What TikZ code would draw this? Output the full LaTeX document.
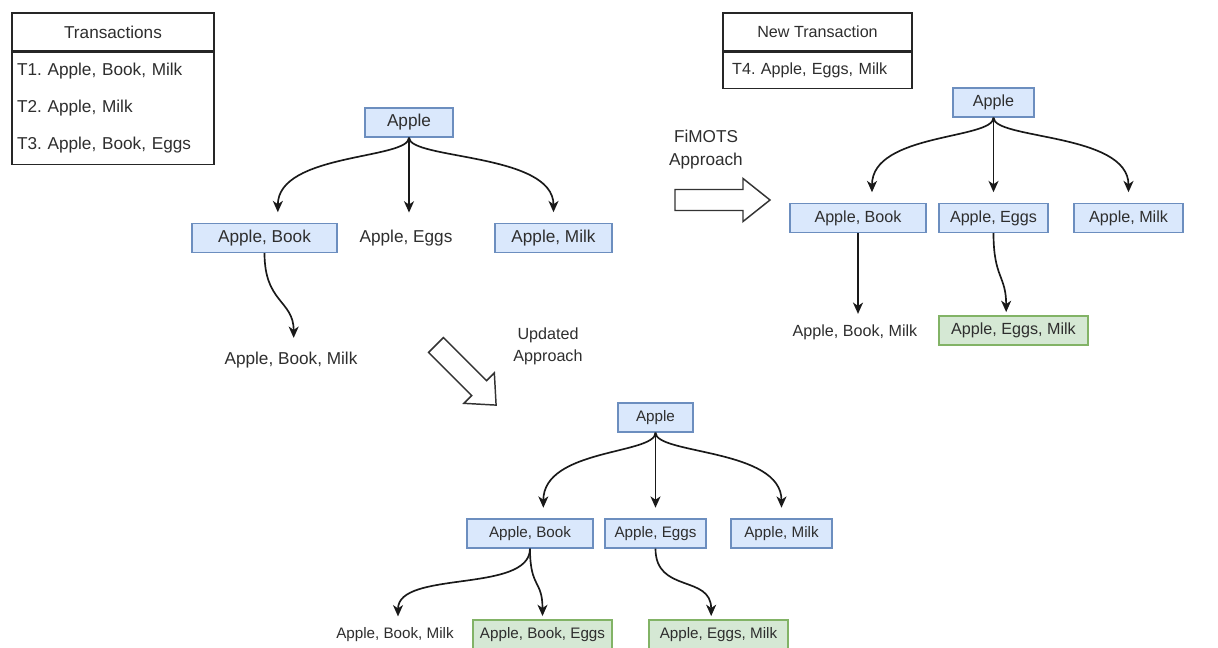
\documentclass[tikz,border=0pt]{standalone}
\usepackage{fontspec}
\setmainfont{Liberation Sans}
\usetikzlibrary{arrows.meta,positioning}
\definecolor{boxblue}{HTML}{DAE8FC}
\definecolor{edgeblue}{HTML}{6C8EBF}
\definecolor{boxgreen}{HTML}{D5E8D4}
\definecolor{edgegreen}{HTML}{82B366}
\newcommand\bigfont{\fontsize{12.9pt}{15.5pt}\selectfont}
\newcommand\midfont{\fontsize{12.1pt}{14.5pt}\selectfont}
\newcommand\smallfont{\fontsize{11.4pt}{13.7pt}\selectfont}
\frenchspacing
\begin{document}
\begin{tikzpicture}[x=0.75pt,y=-0.75pt,
	every node/.style={font=\bigfont, text=black!82, inner sep=0pt, minimum height=21.75pt},
	itemnode/.style={draw=edgeblue, fill=boxblue, line width=0.9pt},
	newnode/.style={draw=edgegreen, fill=boxgreen, line width=0.9pt},
	tabhead/.style={draw=black!85, line width=1.1pt, minimum height=28.5pt},
	tabbody/.style={draw=black!85, line width=1.1pt, align=left},
	link/.style={draw=black!90, line width=1.25pt, -{Stealth[length=8.5pt,width=7.5pt,inset=2.5pt]}, shorten >=2.5pt},
	toplink/.style={link, shorten >=8pt},
	bigarrow/.style={draw=black!80, line width=1.1pt, fill=white, line join=miter}]
	\path[use as bounding box, fill=white] (0,0) rectangle (1218,648);
	% tables
	\node[tabhead, minimum width=151.5pt] (txhead) at (113,32) {Transactions};
	\node[tabbody, minimum width=151.5pt, minimum height=84pt, text width=144pt, below=0pt of txhead] (txbody)
		{T1. Apple, Book, Milk\\[12.25pt]T2. Apple, Milk\\[12.25pt]T3. Apple, Book, Eggs};
	\node[tabhead, minimum width=141.75pt, font=\midfont] (nthead) at (817.5,32) {New Transaction};
	\node[tabbody, minimum width=141.75pt, minimum height=27pt, text width=128pt, font=\midfont, below=0pt of nthead] (ntbody)
		{T4. Apple, Eggs, Milk};
	% first tree
	\node[itemnode, minimum width=66pt] (ap1) at (409,122.5) {Apple};
	\node[itemnode, minimum width=108.75pt] (bk1) at (264.5,238) {Apple, Book};
	\node (eg1) at (406,238) {Apple, Eggs};
	\node[itemnode, minimum width=87.75pt] (mk1) at (553.5,238) {Apple, Milk};
	\node (abm1) at (291,360) {Apple, Book, Milk};
	\draw[toplink] (ap1.south) .. controls +(0,22) and +(0,-70) .. ([xshift=10pt]bk1.north);
	\draw[toplink] (ap1.south) -- (ap1.south |- eg1.north);
	\draw[toplink] (ap1.south) .. controls +(0,22) and +(0,-70) .. (mk1.north);
	\draw[link, shorten >=5.5pt] (bk1.south) .. controls +(0,50) and +(0,-45) .. ([xshift=2pt]abm1.north);
	% FiMOTS
	\node[align=center] (fimots) at (706,150) {FiMOTS\\[1.75pt]Approach};
	\draw[bigarrow] (675,189.5) -- (743,189.5) -- (743,178.5) -- (770,200) -- (743,221.5) -- (743,210.5) -- (675,210.5) -- cycle;
	\begin{scope}[every node/.append style={font=\midfont}]
		\node[itemnode, minimum width=60.75pt] (ap2) at (993.5,102.5) {Apple};
		\node[itemnode, minimum width=102pt] (bk2) at (858,218) {Apple, Book};
		\node[itemnode, minimum width=81.75pt] (eg2) at (993.5,218) {Apple, Eggs};
		\node[itemnode, minimum width=81.75pt] (mk2) at (1128.5,218) {Apple, Milk};
		\node (abm2) at (855,332) {Apple, Book, Milk};
		\node[newnode, minimum width=111.75pt] (aem2) at (1013.5,330.5) {Apple, Eggs, Milk};
		\draw[toplink] (ap2.south) .. controls +(0,22) and +(0,-70) .. ([xshift=10.5pt]bk2.north);
		\draw[toplink] (ap2.south) -- (eg2.north);
		\draw[toplink] (ap2.south) .. controls +(0,22) and +(0,-70) .. (mk2.north);
		\draw[link] (bk2.south) -- (bk2.south |- abm2.north);
		\draw[link] (eg2.south) .. controls +(0,45) and +(0,-40) .. ([xshift=-5.5pt]aem2.north);
	\end{scope}
	% updated approach
	\node[align=center, font=\midfont] (updated) at (548,346) {Updated\\[2pt]Approach};
	\begin{scope}[shift={(436,345)}, rotate=-45]
		\draw[bigarrow] (0,-10.5) -- (61,-10.5) -- (61,-21.5) -- (85,0) -- (61,21.5) -- (61,10.5) -- (0,10.5) -- cycle;
	\end{scope}
	\begin{scope}[every node/.append style={font=\smallfont}]
		\node[itemnode, minimum width=56.25pt] (ap3) at (655.5,417.5) {Apple};
		\node[itemnode, minimum width=94.5pt] (bk3) at (530,533.5) {Apple, Book};
		\node[itemnode, minimum width=75.75pt] (eg3) at (655.5,533.5) {Apple, Eggs};
		\node[itemnode, minimum width=75.75pt] (mk3) at (781.5,533.5) {Apple, Milk};
		\node (abm3) at (395,634.5) {Apple, Book, Milk};
		\node[newnode, minimum width=104.25pt] (abe3) at (542.5,634.5) {Apple, Book, Eggs};
		\node[newnode, minimum width=104.25pt] (aem3) at (718.5,634.5) {Apple, Eggs, Milk};
		\draw[toplink] (ap3.south) .. controls +(0,22) and +(0,-70) .. ([xshift=10pt]bk3.north);
		\draw[toplink] (ap3.south) -- (eg3.north);
		\draw[toplink] (ap3.south) .. controls +(0,22) and +(0,-70) .. (mk3.north);
		\draw[link] (bk3.south) .. controls +(0,45) and +(0,-50) .. ([xshift=2.25pt]abm3.north);
		\draw[link] (bk3.south) .. controls +(0,40) and +(0,-40) .. (abe3.north);
		\draw[link] (eg3.south) .. controls +(0,45) and +(0,-45) .. ([xshift=-5.5pt]aem3.north);
	\end{scope}
\end{tikzpicture}
\end{document}
